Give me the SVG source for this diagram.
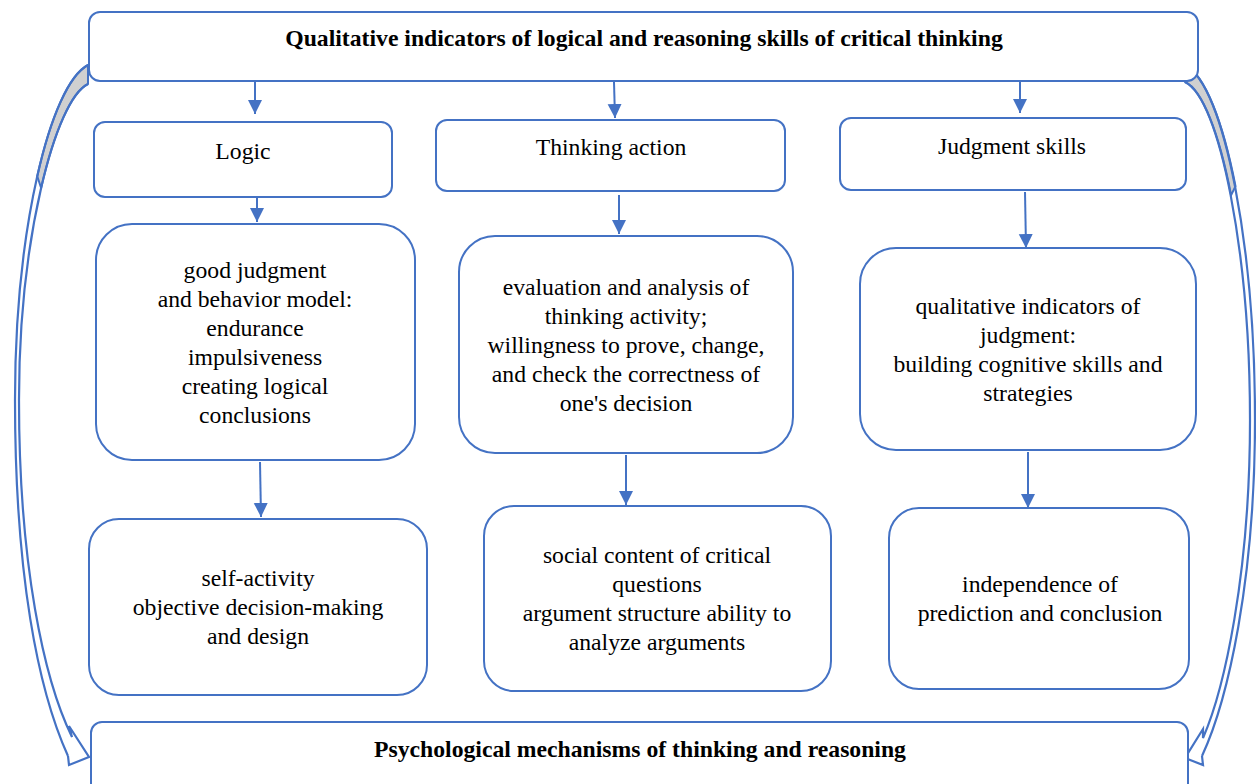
<svg xmlns="http://www.w3.org/2000/svg" width="1256" height="784" viewBox="0 0 1256 784">
  <style>
    .box { fill: #ffffff; stroke: #4472C4; stroke-width: 2; }
    .lbl { font-family: "Liberation Serif", "Times New Roman", serif; font-size: 23.7px; fill: #000000; text-anchor: middle; }
    .bold { font-weight: bold; }
    .conn { stroke: #4472C4; stroke-width: 2; fill: none; marker-end: url(#head); }
    .curve { stroke: #4472C4; stroke-width: 2.2; fill: none; stroke-linejoin: miter; }
    .back { fill: #d0d0d0; stroke: #4472C4; stroke-width: 2; stroke-linejoin: round; }
  </style>
  <defs>
    <marker id="head" markerUnits="userSpaceOnUse" markerWidth="16" markerHeight="16" refX="14" refY="7" orient="auto">
      <path d="M0,0 L14,7 L0,14 Z" fill="#4472C4"/>
    </marker>
  </defs>

  <!-- curved side arrows running from the header down to the footer -->
  <g id="side-arrows">
    <g id="left-arrow">
      <path class="back" d="M88,65 C69,75 50.75,116.25 37.25,176.25 L41.125,188 C54.25,131 71.5,92 88,84 Z"/>
      <path class="curve" d="M88,65 C50,85 15,230 15,400 C15,575 38,690 68,756"/>
      <path class="curve" d="M88,84 C55,100 19,240 19,400 C19,565 44,680 72,737 L69,726 L89,757 L69,765 L68,756"/>
    </g>
    <g id="right-arrow">
      <path class="back" d="M1185,65 C1205,75 1222.75,121.25 1235.5,186.25 L1231.125,195.125 C1219,133.25 1202.5,90 1185,82 Z"/>
      <path class="curve" d="M1185,65 C1225,85 1255,250 1255,420 C1255,580 1228,700 1202,756"/>
      <path class="curve" d="M1185,82 C1220,98 1250,255 1250,420 C1250,575 1224,690 1203,738 L1203,729 L1185,758 L1203,765 L1202,756"/>
    </g>
  </g>

  <!-- straight connectors -->
  <g id="connectors">
    <line class="conn" x1="255" y1="75" x2="255" y2="114"/>
    <line class="conn" x1="614" y1="82" x2="615" y2="118"/>
    <line class="conn" x1="1020" y1="82" x2="1020" y2="113"/>
    <line class="conn" x1="257" y1="197" x2="257" y2="222"/>
    <line class="conn" x1="619" y1="195" x2="619" y2="234"/>
    <line class="conn" x1="1025" y1="192" x2="1026" y2="248"/>
    <line class="conn" x1="260" y1="462" x2="261" y2="517"/>
    <line class="conn" x1="626" y1="455" x2="626" y2="505"/>
    <line class="conn" x1="1028" y1="452" x2="1028" y2="508"/>
  </g>

  <!-- header -->
  <g id="header">
    <rect class="box" x="89" y="12" width="1109" height="69" rx="11"/>
    <text class="lbl bold" x="644" y="46">Qualitative indicators of logical and reasoning skills of critical thinking</text>
  </g>

  <!-- first row: the three skill groups -->
  <g id="logic">
    <rect class="box" x="94" y="122" width="298" height="75" rx="11"/>
    <text class="lbl" x="243" y="159">Logic</text>
  </g>
  <g id="thinking-action">
    <rect class="box" x="436" y="120" width="349" height="71" rx="11"/>
    <text class="lbl" x="611" y="155">Thinking action</text>
  </g>
  <g id="judgment-skills">
    <rect class="box" x="840" y="118" width="346" height="72" rx="11"/>
    <text class="lbl" x="1012" y="154">Judgment skills</text>
  </g>

  <!-- second row -->
  <g id="logic-detail">
    <rect class="box" x="96" y="224" width="319" height="236" rx="36"/>
    <text class="lbl" x="255" y="278">good judgment</text>
    <text class="lbl" x="255" y="307">and behavior model:</text>
    <text class="lbl" x="255" y="336">endurance</text>
    <text class="lbl" x="255" y="365">impulsiveness</text>
    <text class="lbl" x="255" y="394">creating logical</text>
    <text class="lbl" x="255" y="423">conclusions</text>
  </g>
  <g id="thinking-detail">
    <rect class="box" x="459" y="236" width="334" height="217" rx="36"/>
    <text class="lbl" x="626" y="295">evaluation and analysis of</text>
    <text class="lbl" x="626" y="324">thinking activity;</text>
    <text class="lbl" x="626" y="353">willingness to prove, change,</text>
    <text class="lbl" x="626" y="382">and check the correctness of</text>
    <text class="lbl" x="626" y="411">one's decision</text>
  </g>
  <g id="judgment-detail">
    <rect class="box" x="860" y="248" width="336" height="202" rx="36"/>
    <text class="lbl" x="1028" y="314">qualitative indicators of</text>
    <text class="lbl" x="1028" y="343">judgment:</text>
    <text class="lbl" x="1028" y="372">building cognitive skills and</text>
    <text class="lbl" x="1028" y="401">strategies</text>
  </g>

  <!-- third row -->
  <g id="logic-outcome">
    <rect class="box" x="89" y="519" width="338" height="176" rx="30"/>
    <text class="lbl" x="258" y="586">self-activity</text>
    <text class="lbl" x="258" y="615">objective decision-making</text>
    <text class="lbl" x="258" y="644">and design</text>
  </g>
  <g id="thinking-outcome">
    <rect class="box" x="484" y="506" width="347" height="185" rx="30"/>
    <text class="lbl" x="657" y="563">social content of critical</text>
    <text class="lbl" x="657" y="592">questions</text>
    <text class="lbl" x="657" y="621">argument structure ability to</text>
    <text class="lbl" x="657" y="650">analyze arguments</text>
  </g>
  <g id="judgment-outcome">
    <rect class="box" x="889" y="508" width="300" height="181" rx="30"/>
    <text class="lbl" x="1040" y="592">independence of</text>
    <text class="lbl" x="1040" y="621">prediction and conclusion</text>
  </g>

  <!-- footer -->
  <g id="footer">
    <rect class="box" x="91" y="722" width="1097" height="80" rx="11"/>
    <text class="lbl bold" x="640" y="757">Psychological mechanisms of thinking and reasoning</text>
  </g>
</svg>
